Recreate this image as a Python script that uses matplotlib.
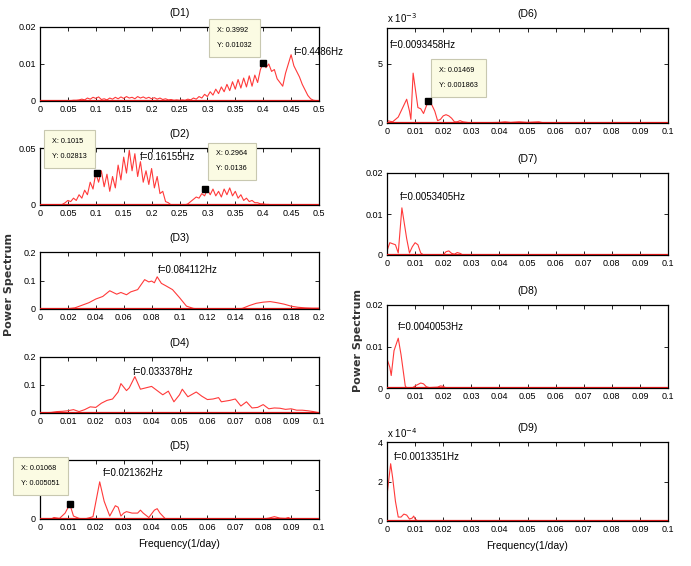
import numpy as np
import matplotlib
matplotlib.use("Agg")
import matplotlib.pyplot as plt
from matplotlib.ticker import FuncFormatter

plt.rcParams['font.family'] = ['Liberation Sans Narrow', 'Liberation Sans', 'DejaVu Sans']

# ======================================
# DATA
# ======================================

# D1, frequency step 0.005
d1_freq = np.arange(0, 0.5001, 0.005)
d1_power = np.array([
    0, 0, 0, 0, 0, 0, 0, 0, 0, 0.1, 0.1, 0.1, 0.2, 0.2, 0.3,
    0.5, 0.3, 0.8, 0.5, 1.0, 0.7, 1.1, 0.4, 0.6, 0.3, 0.8, 0.5, 1.0, 0.6, 1.1,
    0.7, 1.2, 0.8, 1.0, 0.6, 1.2, 0.8, 1.1, 0.7, 1.0, 0.6, 0.9, 0.5, 0.8, 0.4,
    0.6, 0.3, 0.4, 0.2, 0.3, 0.2,
    0.3, 0.2, 0.5, 0.3, 0.8, 0.5, 1.2, 0.8, 1.8, 1.2, 2.5, 1.6, 3.2, 2.0, 3.8,
    2.5, 4.5, 2.8, 5.2, 3.2, 5.8, 3.5, 6.2, 3.8, 6.8, 4.0, 7.0, 5.0, 8.5, 10.3,
    9.0, 10.0, 8.0, 8.5, 6.0, 5.0, 4.0, 7.5, 10.0, 12.5, 9.5, 8.0, 6.5, 4.5,
    3.0, 1.5, 0.6, 0.2, 0.1, 0.0]) * 1e-3

# D2, frequency step 0.005
d2_freq = np.arange(0, 0.5001, 0.005)
d2_power = np.array([
    0, 0, 0, 0, 0, 0, 0, 0, 0.0005, 0.002, 0.004, 0.003, 0.006, 0.004, 0.009,
    0.006, 0.013, 0.009, 0.020, 0.014, 0.028, 0.020, 0.030, 0.016, 0.027,
    0.012, 0.025, 0.015, 0.035, 0.022, 0.042, 0.028, 0.048, 0.030, 0.045,
    0.025, 0.038, 0.020, 0.030, 0.018, 0.032, 0.015, 0.025, 0.010, 0.012,
    0.003, 0.002, 0, 0, 0, 0, 0, 0, 0.001, 0.003, 0.005, 0.007, 0.006, 0.010,
    0.008, 0.0136, 0.009, 0.014, 0.008, 0.012, 0.007, 0.014, 0.009, 0.015,
    0.008, 0.012, 0.006, 0.009, 0.004, 0.006, 0.003, 0.004, 0.002, 0.002,
    0.001, 0.001, 0.0005, 0.0005, 0, 0, 0, 0, 0, 0, 0, 0, 0, 0, 0, 0, 0, 0,
    0, 0, 0, 0])

# D3
d3_freq = np.array([0, 0.005, 0.01, 0.015, 0.02, 0.025, 0.03, 0.035, 0.04,
                    0.045, 0.05, 0.055, 0.058, 0.062, 0.065, 0.07, 0.075,
                    0.078, 0.08, 0.082, 0.084, 0.087, 0.09, 0.095, 0.1, 0.105,
                    0.11, 0.115, 0.12, 0.125, 0.13, 0.135, 0.14, 0.145, 0.15,
                    0.155, 0.16, 0.165, 0.17, 0.175, 0.18, 0.185, 0.19, 0.195,
                    0.2])
d3_power = np.array([0, 0, 0, 0, 0.001, 0.004, 0.013, 0.022, 0.035, 0.044,
                     0.064, 0.052, 0.058, 0.050, 0.060, 0.068, 0.103, 0.095,
                     0.098, 0.092, 0.113, 0.090, 0.082, 0.068, 0.040, 0.010,
                     0.002, 0, 0.001, 0, 0.001, 0, 0, 0.002, 0.012, 0.020,
                     0.024, 0.026, 0.022, 0.017, 0.010, 0.006, 0.004, 0.003,
                     0.003])

# D4
d4_freq = np.array([0, 0.002, 0.004, 0.006, 0.008, 0.01, 0.012, 0.014, 0.016,
                    0.018, 0.02, 0.022, 0.024, 0.026, 0.028, 0.029, 0.031,
                    0.032, 0.034, 0.036, 0.038, 0.04, 0.042, 0.044, 0.046,
                    0.048, 0.05, 0.051, 0.053, 0.056, 0.058, 0.06, 0.062,
                    0.064, 0.065, 0.068, 0.07, 0.072, 0.074, 0.076, 0.078,
                    0.08, 0.082, 0.084, 0.086, 0.088, 0.09, 0.092, 0.094,
                    0.096, 0.098, 0.1])
d4_power = np.array([0.001, 0.001, 0.002, 0.005, 0.006, 0.008, 0.012, 0.005,
                     0.012, 0.022, 0.020, 0.035, 0.045, 0.050, 0.075, 0.105,
                     0.080, 0.090, 0.130, 0.085, 0.090, 0.095, 0.080, 0.065,
                     0.078, 0.040, 0.065, 0.085, 0.058, 0.075, 0.060, 0.048,
                     0.050, 0.055, 0.040, 0.045, 0.050, 0.025, 0.040, 0.018,
                     0.020, 0.030, 0.015, 0.018, 0.017, 0.013, 0.015, 0.010,
                     0.010, 0.008, 0.005, 0.001])

# D5
d5_freq = np.array([0, 0.004, 0.005, 0.007, 0.009, 0.01068, 0.012, 0.014,
                    0.016, 0.018, 0.019, 0.0214, 0.023, 0.025, 0.027, 0.028,
                    0.029, 0.03, 0.031, 0.033, 0.035, 0.036, 0.037, 0.039,
                    0.041, 0.042, 0.043, 0.045, 0.08, 0.082, 0.084, 0.086,
                    0.088, 0.089, 0.09, 0.1])
d5_power = np.array([0, 0, 0.0005, 0.0002, 0.002, 0.005051, 0.001, 0.0002, 0,
                     0.0005, 0.0008, 0.0126, 0.006, 0.001, 0.0045, 0.004,
                     0.001, 0.002, 0.0025, 0.002, 0.002, 0.003, 0.002, 0.0005,
                     0.003, 0.0035, 0.002, 0, 0, 0.0003, 0.0008, 0.0003,
                     0.0002, 0.0005, 0, 0])

# D6 (units of 1e-3)
d6_freq = np.array([0, 0.002, 0.004, 0.006, 0.007, 0.008, 0.0085, 0.0093,
                    0.011, 0.012, 0.013, 0.01469, 0.016, 0.017, 0.018, 0.019,
                    0.02, 0.021, 0.022, 0.023, 0.024, 0.025, 0.026, 0.027,
                    0.03, 0.04, 0.042, 0.044, 0.047, 0.05, 0.054, 0.056, 0.1])
d6_power = np.array([0.2, 0.1, 0.5, 1.5, 2.0, 1.0, 0.3, 4.2, 1.3, 1.2, 0.8,
                     1.863, 1.5, 1.0, 0.2, 0.3, 0.6, 0.7, 0.6, 0.4, 0.1, 0.1,
                     0.2, 0.1, 0, 0.05, 0.1, 0.05, 0.1, 0.05, 0.1, 0, 0])

# D7
d7_freq = np.array([0, 0.001, 0.003, 0.004, 0.0053, 0.007, 0.008, 0.009,
                    0.010, 0.011, 0.012, 0.013, 0.02, 0.021, 0.022, 0.023,
                    0.024, 0.025, 0.026, 0.027, 0.1])
d7_power = np.array([0.001, 0.003, 0.0025, 0.0005, 0.0115, 0.004, 0.0005,
                     0.002, 0.003, 0.0025, 0.0005, 0, 0, 0.0008, 0.001,
                     0.0004, 0.0002, 0.0006, 0.0004, 0, 0])

# D8
d8_freq = np.array([0, 0.001, 0.0015, 0.0025, 0.004, 0.005, 0.006, 0.0065,
                    0.007, 0.009, 0.01, 0.012, 0.013, 0.014, 0.015, 0.018,
                    0.019, 0.02, 0.021, 0.1])
d8_power = np.array([0.007, 0.005, 0.003, 0.009, 0.012, 0.008, 0.003, 0.0005,
                     0, 0, 0.0005, 0.0012, 0.001, 0.0003, 0.0001, 0.0002,
                     0.0005, 0.0004, 0, 0])

# D9 (units of 1e-4)
d9_freq = np.array([0, 0.0013, 0.002, 0.003, 0.004, 0.005, 0.006, 0.007,
                    0.008, 0.009, 0.0095, 0.01, 0.011, 0.1])
d9_power = np.array([1.3, 2.9, 2.2, 1.0, 0.2, 0.2, 0.35, 0.3, 0.1, 0.15,
                     0.25, 0.1, 0, 0])

peak_labels = ["f=0.4486Hz", "f=0.16155Hz", "f=0.084112Hz", "f=0.033378Hz",
               "f=0.021362Hz", "f=0.0093458Hz", "f=0.0053405Hz",
               "f=0.0040053Hz", "f=0.0013351Hz"]

# data tips: (panel index, x, y, text)
tips = [
    (0, 0.3992, 0.01032, "X: 0.3992\nY: 0.01032"),
    (1, 0.1015, 0.02813, "X: 0.1015\nY: 0.02813"),
    (1, 0.2964, 0.0136, "X: 0.2964\nY: 0.0136"),
    (4, 0.01068, 0.005051, "X: 0.01068\nY: 0.005051"),
    (5, 0.01469, 1.863, "X: 0.01469\nY: 0.001863"),
]

# ======================================
# LAYOUT
# ======================================

W, H = 691, 566

def px_axes(x0, x1, top, bottom):
    return [x0 / W, 1 - bottom / H, (x1 - x0) / W, (bottom - top) / H]

panels = [
    # title, freq, power, xmax, ymax, yticks, rect, peak label offset (px)
    ("(D1)", d1_freq, d1_power, 0.5, 0.02, [0, 0.01, 0.02], px_axes(40, 319, 27, 101), (3, 3)),
    ("(D2)", d2_freq, d2_power, 0.5, 0.05, [0, 0.05], px_axes(40, 319, 148, 205), (11, -7)),
    ("(D3)", d3_freq, d3_power, 0.2, 0.2, [0, 0.1, 0.2], px_axes(40, 319, 252, 309), (1, 7)),
    ("(D4)", d4_freq, d4_power, 0.1, 0.2, [0, 0.1, 0.2], px_axes(40, 319, 357, 413), (-2, 5)),
    ("(D5)", d5_freq, d5_power, 0.1, 0.02, [0, 0.01, 0.02], px_axes(40, 319, 460, 519), (3, 9)),
    ("(D6)", d6_freq, d6_power, 0.1, 8, [0, 5], px_axes(387, 668, 28, 123), (-23, 28)),
    ("(D7)", d7_freq, d7_power, 0.1, 0.02, [0, 0.01, 0.02], px_axes(387, 668, 173, 255), (-2, 11)),
    ("(D8)", d8_freq, d8_power, 0.1, 0.02, [0, 0.01, 0.02], px_axes(387, 668, 305, 388), (0, 11)),
    ("(D9)", d9_freq, d9_power, 0.1, 4, [0, 2, 4], px_axes(387, 668, 442, 521), (3, 7)),
]

# text offset from the marker, in pixels (box padding included)
tip_offsets = [(-11, 14, 'right'), (-10, 13, 'right'), (11, 17, 'left'),
               (-10, 17, 'right'), (11, 12, 'left')]

fig = plt.figure(figsize=(W / 100, H / 100), dpi=100)
fig.patch.set_facecolor("white")

fmt = FuncFormatter(lambda v, p: f"{v:g}")
axes = []

for i, (title, fr, pw, xmax, ymax, yt, rect, loff) in enumerate(panels):
    ax = fig.add_axes(rect)
    ax.plot(fr, pw, color="#ff3a3a", lw=0.8, zorder=2)
    ax.axhline(0, color="#d41515", lw=1.6, zorder=3)
    ax.set_xlim(0, xmax)
    ax.set_ylim(0, ymax)
    if xmax == 0.5:
        ax.set_xticks(np.arange(0, 0.5001, 0.05))
    elif xmax == 0.2:
        ax.set_xticks(np.arange(0, 0.2001, 0.02))
    else:
        ax.set_xticks(np.arange(0, 0.1001, 0.01))
    ax.set_yticks(yt)
    ax.xaxis.set_major_formatter(fmt)
    ax.yaxis.set_major_formatter(fmt)
    ax.tick_params(direction="in", length=3, width=0.6, top=True, right=True,
                   labelsize=6.5, pad=3)
    for s in ax.spines.values():
        s.set_linewidth(0.9)
    ax.set_title(title, fontsize=7.5, pad=8)

    k = int(np.argmax(pw))
    ax.annotate(peak_labels[i], (fr[k], pw[k]), xytext=loff,
                textcoords="offset pixels", fontsize=7, va="center",
                ha="left", zorder=5)
    axes.append(ax)

for (j, tx, ty, txt), (dx, dy, side) in zip(tips, tip_offsets):
    ax = axes[j]
    ax.plot([tx], [ty], marker="s", ms=4.5, color="black", zorder=8)
    ax.annotate(txt, (tx, ty), xytext=(dx, dy), textcoords="offset pixels",
                ha=side, va="bottom", fontsize=5.2, linespacing=2.6,
                multialignment="left", zorder=7, annotation_clip=False,
                bbox=dict(boxstyle="square,pad=1.1", fc="#fbfbe3",
                          ec="#c8c8b0", lw=0.8))

# exponent labels
axes[5].text(0, 1.03, r"x 10$^{-3}$", transform=axes[5].transAxes,
             fontsize=7, va="bottom", ha="left")
axes[8].text(0, 1.03, r"x 10$^{-4}$", transform=axes[8].transAxes,
             fontsize=7, va="bottom", ha="left")

axes[4].set_xlabel("Frequency(1/day)", fontsize=7.5, labelpad=5)
axes[8].set_xlabel("Frequency(1/day)", fontsize=7.5, labelpad=5)

fig.text(9 / W, 1 - 285 / H, "Power Spectrum", rotation=90, fontsize=8,
         fontweight="bold", color="#333333", ha="center", va="center",
         family="DejaVu Sans")
fig.text(358 / W, 1 - 340 / H, "Power Spectrum", rotation=90, fontsize=8,
         fontweight="bold", color="#333333", ha="center", va="center",
         family="DejaVu Sans")

fig.savefig("out.png", dpi=100)
